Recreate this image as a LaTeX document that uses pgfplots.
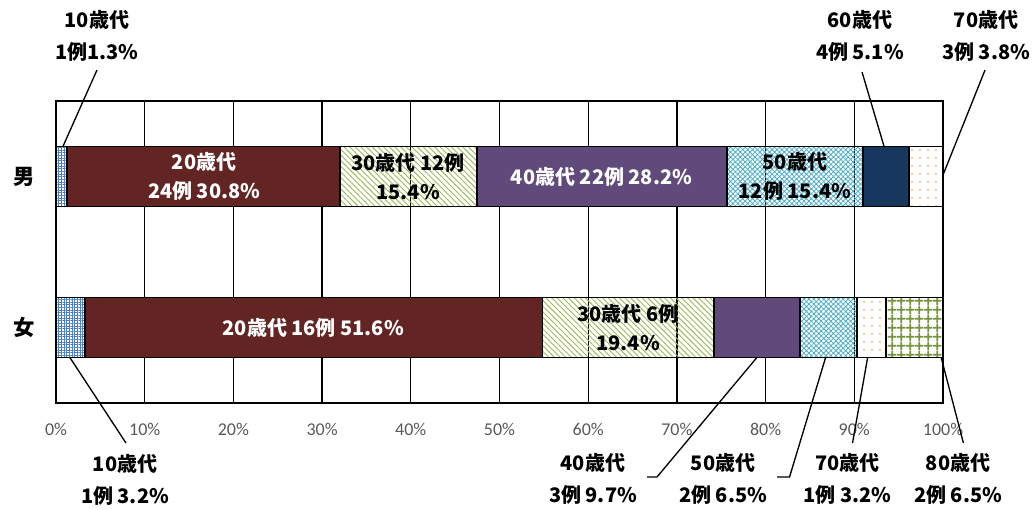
\documentclass[border=0pt]{standalone}
\usepackage{fontspec}
\setmainfont{Carlito}
\newfontfamily\jp{Noto Sans CJK JP}
\usepackage{pgfplots}
\pgfplotsset{compat=1.18}
\usetikzlibrary{patterns.meta}
\definecolor{c10}{HTML}{4F81BD}
\definecolor{c20}{HTML}{632523}
\definecolor{c30}{HTML}{9BBB59}
\definecolor{c40}{HTML}{604A7B}
\definecolor{c50}{HTML}{4BACC6}
\definecolor{c60}{HTML}{17375E}
\definecolor{c70}{HTML}{F79646}
\definecolor{c80}{HTML}{77933C}
\definecolor{tickgray}{HTML}{595959}
\begin{document}
\begin{tikzpicture}
\path[use as bounding box] (0,0) rectangle (774.75pt,382.5pt);
\begin{axis}[
  at={(42pt,80.25pt)}, anchor=south west,
  scale only axis, width=665.25pt, height=226.5pt,
  xbar stacked, bar width=45pt,
  xmin=0, xmax=100, ymin=-0.5, ymax=1.5,
  xtick={0,10,...,100},
  xticklabels={0\%,10\%,20\%,30\%,40\%,50\%,60\%,70\%,80\%,90\%,100\%},
  ytick={0,1}, yticklabels={女,男},
  xticklabel style={font=\fontsize{13.5}{16}\selectfont, text=tickgray, anchor=center, yshift=-20pt},
  yticklabel style={font=\jp\bfseries\fontsize{16}{18}\selectfont, anchor=center, xshift=-24pt},
  xmajorgrids, major grid style={black, line width=1pt},
  major tick length=0pt,
  axis line style={black, line width=1.2pt},
  every axis plot/.append style={draw=black, line width=1.4pt},
  clip=false,
]
% 10s
\addplot[pattern={Hatch[angle=0,distance=2pt,line width=0.45pt]}, pattern color=c10] coordinates {(3.23,0) (1.28,1)};
% 20s
\addplot[fill=c20] coordinates {(51.61,0) (30.77,1)};
% 30s
\addplot[pattern={Lines[angle=-45,distance=3pt,line width=0.7pt]}, pattern color=c30] coordinates {(19.35,0) (15.38,1)};
% 40s
\addplot[fill=c40] coordinates {(9.68,0) (28.21,1)};
% 50s
\addplot[pattern={Hatch[angle=45,distance=2.6pt,line width=0.6pt]}, pattern color=c50] coordinates {(6.45,0) (15.38,1)};
% 60s
\addplot[fill=c60] coordinates {(0,0) (5.13,1)};
% 70s
\addplot[pattern={Dots[distance=6pt,radius=0.7pt]}, pattern color=c70] coordinates {(3.23,0) (3.85,1)};
% 80s
\addplot[pattern={Hatch[angle=0,distance=6.5pt,line width=1.3pt]}, pattern color=c80] coordinates {(6.45,0) (0,1)};

% anchor coordinates for labels
\coordinate (M20) at (axis cs:16.7,1);
\coordinate (M30) at (axis cs:39.7,1);
\coordinate (M40) at (axis cs:61.5,1);
\coordinate (M50) at (axis cs:83.3,1);
\coordinate (F20) at (axis cs:29.0,0);
\coordinate (F30) at (axis cs:64.5,0);
\coordinate (OM10) at (axis cs:4.62,1.93);
\coordinate (OM60) at (axis cs:90.64,1.93);
\coordinate (OM70) at (axis cs:104.85,1.93);
\coordinate (OF10) at (axis cs:7.78,-1.01);
\coordinate (OF40) at (axis cs:60.54,-1.0);
\coordinate (OF50) at (axis cs:75.2,-1.0);
\coordinate (OF70) at (axis cs:89.2,-1.0);
\coordinate (OF80) at (axis cs:101.7,-1.0);
% leader line points
\coordinate (a1) at (axis cs:4.62,1.705);  \coordinate (b1) at (axis cs:0.79,1.2);
\coordinate (a2) at (axis cs:90.87,1.692); \coordinate (b2) at (axis cs:93.35,1.2);
\coordinate (a3) at (axis cs:104.74,1.705);\coordinate (b3) at (axis cs:100,1.01);
\coordinate (a4) at (axis cs:1.58,-0.2);   \coordinate (b4) at (axis cs:7.89,-0.765);
\coordinate (a5) at (axis cs:79.0,-0.2);   \coordinate (b5) at (axis cs:67.76,-0.99); \coordinate (c5) at (axis cs:66.63,-0.99);
\coordinate (a6) at (axis cs:86.76,-0.2);  \coordinate (b6) at (axis cs:82.7,-0.99);  \coordinate (c6) at (axis cs:81.3,-0.99);
\coordinate (a7) at (axis cs:91.5,-0.2);   \coordinate (b7) at (axis cs:89.8,-0.765);
\coordinate (a8) at (axis cs:99.8,-0.2);   \coordinate (b8) at (axis cs:102.3,-0.765);
\end{axis}

% inside labels
\tikzset{lab/.style={align=center, font=\jp\bfseries\fontsize{15}{22}\selectfont, inner sep=0pt}}
\node[lab, text=white] at (M20) {20歳代\\24例 30.8\%};
\node[lab] at (M30) {30歳代 12例\\15.4\%};
\node[lab, text=white] at (M40) {40歳代 22例 28.2\%};
\node[lab] at (M50) {50歳代\\12例 15.4\%};
\node[lab, text=white] at (F20) {20歳代 16例 51.6\%};
\node[lab] at (F30) {30歳代 6例\\19.4\%};

% outside labels
\tikzset{olab/.style={align=center, font=\jp\bfseries\fontsize{15}{24}\selectfont, inner sep=0pt}}
\node[olab] at (OM10) {10歳代\\1例1.3\%};
\node[olab] at (OM60) {60歳代\\4例 5.1\%};
\node[olab] at (OM70) {70歳代\\3例 3.8\%};
\node[olab] at (OF10) {10歳代\\1例 3.2\%};
\node[olab] at (OF40) {40歳代\\3例 9.7\%};
\node[olab] at (OF50) {50歳代\\2例 6.5\%};
\node[olab] at (OF70) {70歳代\\1例 3.2\%};
\node[olab] at (OF80) {80歳代\\2例 6.5\%};

% leader lines
\tikzset{lead/.style={draw=black, line width=1pt}}
\draw[lead] (a1) -- (b1);
\draw[lead] (a2) -- (b2);
\draw[lead] (a3) -- (b3);
\draw[lead] (a4) -- (b4);
\draw[lead] (a5) -- (b5) -- (c5);
\draw[lead] (a6) -- (b6) -- (c6);
\draw[lead] (a7) -- (b7);
\draw[lead] (a8) -- (b8);
\end{tikzpicture}
\end{document}
